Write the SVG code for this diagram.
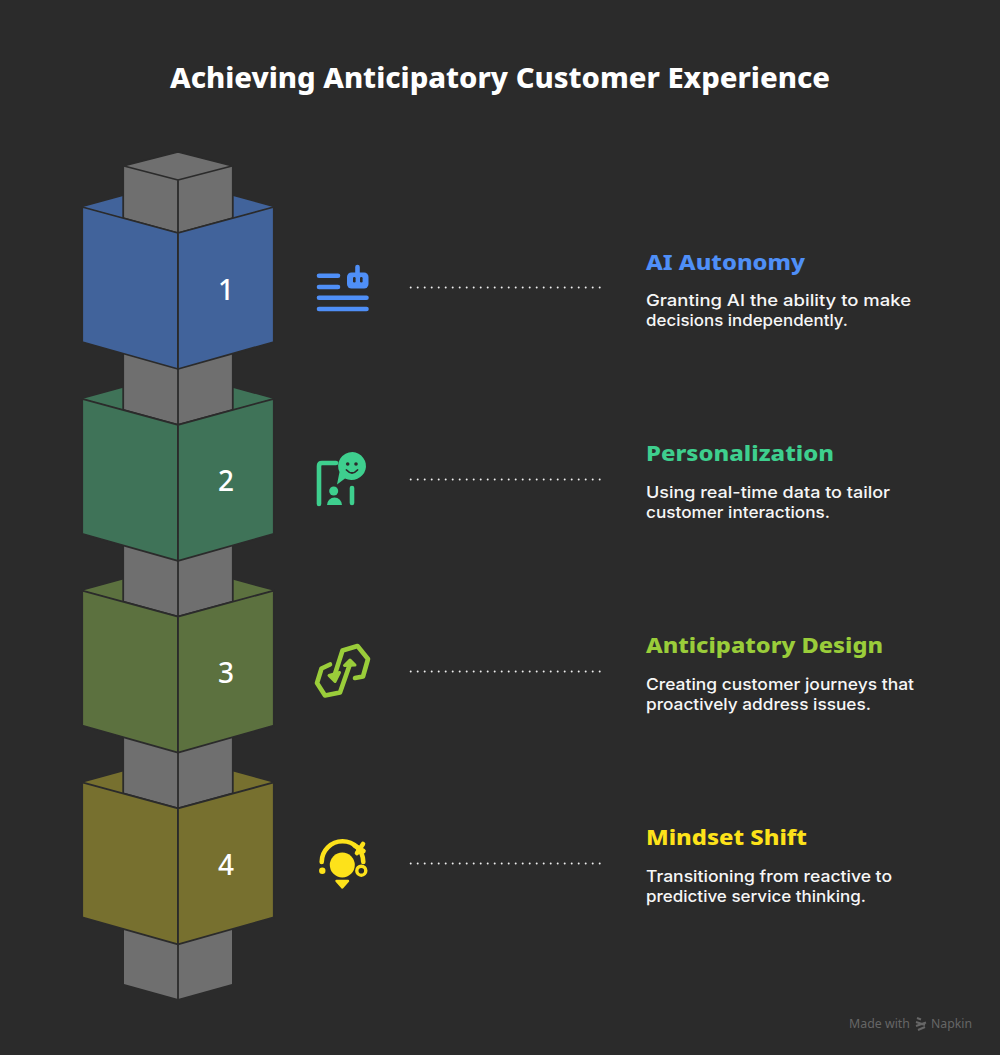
<svg xmlns="http://www.w3.org/2000/svg" xmlns:xlink="http://www.w3.org/1999/xlink" width="1000" height="1055" viewBox="0 0 1000 1055">
<style>
text{font-family:"Noto Sans","Open Sans",sans-serif}
.title{font-size:28px;font-weight:800;fill:#fff}
.h{font-size:22px;font-weight:800}
.d{font-family:Inter,"Noto Sans",sans-serif;font-size:16.4px;font-weight:500;fill:#f6f6f6}
.n{font-size:28px;font-weight:500;fill:#fff;text-anchor:middle}
.gray{fill:#6f6f6f;stroke:#2b2b2b;stroke-width:1.8;stroke-linejoin:round}
.edge{fill:none;stroke:#2b2b2b;stroke-width:1.8;stroke-linejoin:round}
.face{stroke:#2b2b2b;stroke-width:1.8;stroke-linejoin:round}
.dots{fill:none;stroke:#f0f0f0;stroke-width:2;stroke-linecap:round;stroke-dasharray:0 7}
.ln{fill:none;stroke-width:4.6;stroke-linecap:round;stroke-linejoin:round}
</style>
<defs>
<g id="cube-front">
<polygon class="face" points="82.200,207 178,233 178,369 82.200,342"/>
<polygon class="face" points="273.800,207 178,233 178,369 273.800,342"/>
</g>
<polygon id="cube-back" points="83,207 178,181 273,207 178,233"/>
<g id="shaft">
<polygon class="gray" points="123.200,150 232.800,150 232.800,218 178,233 123.200,218"/>
<line class="edge" x1="178" y1="150" x2="178" y2="233"/>
</g>
</defs>
<rect width="1000" height="1055" fill="#2b2b2b"/>
<text class="title" x="170" y="88" textLength="660" lengthAdjust="spacingAndGlyphs">Achieving Anticipatory Customer Experience</text>

<g id="column-base">
<polygon points="124,925 232,925 232,984 178,999 124,984" fill="#6f6f6f"/>
<line class="edge" x1="178" y1="925" x2="178" y2="999"/>
</g>

<g id="node-4">
<g transform="translate(0,575.4)"><use href="#cube-back" fill="#77702f"/><use href="#shaft"/><use href="#cube-front" fill="#77702f"/></g>
<text class="n" x="226" y="875">4</text>
<g id="icon-4" fill="#fde21a" stroke="#fde21a">
<circle cx="342.300" cy="865" r="12.500" stroke="none"/>
<polygon points="336.500,881 348,881 342.300,887.500" stroke-width="2.400" stroke-linejoin="round"/>
<path class="ln" d="M321.700,862A20.800,20.800 0 0 1 363.300,862" fill="none" stroke-width="4"/>
<path class="ln" d="M354.500,845.500L363.500,851M363,844L357,853" fill="none" stroke-width="3.600"/>
<circle cx="322.300" cy="870.700" r="3.200" stroke="none"/>
<circle cx="361.300" cy="870.700" r="4.500" fill="none" stroke-width="3.400"/>
</g>
<text class="h" x="646" y="845" fill="#fde21a" textLength="161" lengthAdjust="spacingAndGlyphs">Mindset Shift</text>
<text class="d" x="646" y="882" textLength="246" lengthAdjust="spacingAndGlyphs">Transitioning from reactive to</text>
<text class="d" x="646" y="902" textLength="220" lengthAdjust="spacingAndGlyphs">predictive service thinking.</text>
</g>

<g id="node-3">
<g transform="translate(0,383.600)"><use href="#cube-back" fill="#5c713f"/><use href="#shaft"/><use href="#cube-front" fill="#5c713f"/></g>
<text class="n" x="226" y="683">3</text>
<g id="icon-3" stroke="#9acd3a" fill="none">
<path class="ln" d="M334,677L342.500,650.500L357.500,646L368,659L363,676.500L355,678"/>
<path class="ln" d="M330,664.500L321.500,668.500L317,683L325,695.500L340,692.500L350,664"/>
<polygon points="329,675.500 339.500,672.500 335,681.500" fill="#9acd3a" stroke-width="3" stroke-linejoin="round"/>
<polygon points="344.500,665.500 355,665 350,660" fill="#9acd3a" stroke-width="3" stroke-linejoin="round"/>
</g>
<text class="h" x="646" y="653" fill="#9acd3a" textLength="237" lengthAdjust="spacingAndGlyphs">Anticipatory Design</text>
<text class="d" x="646" y="690" textLength="268" lengthAdjust="spacingAndGlyphs">Creating customer journeys that</text>
<text class="d" x="646" y="710" textLength="225" lengthAdjust="spacingAndGlyphs">proactively address issues.</text>
</g>

<g id="node-2">
<g transform="translate(0,191.800)"><use href="#cube-back" fill="#3f7358"/><use href="#shaft"/><use href="#cube-front" fill="#3f7358"/></g>
<text class="n" x="226" y="491">2</text>
<g id="icon-2" fill="#3ecf8e" stroke="#3ecf8e">
<path class="ln" d="M319,504V466Q319,463 322,463H336" fill="none"/>
<path class="ln" d="M352,488V503" fill="none"/>
<path d="M352.500,452A14.500,14 0 1 1 345,478.500L337,484.500L339.500,472A14.500,14 0 0 1 352.500,452Z" stroke="none"/>
<circle cx="347.700" cy="464" r="1.800" fill="#2b2b2b" stroke="none"/>
<circle cx="356" cy="464" r="1.800" fill="#2b2b2b" stroke="none"/>
<path d="M346.500,470Q352,476 357.500,470" fill="none" stroke="#2b2b2b" stroke-width="1.800" stroke-linecap="round"/>
<circle cx="333.700" cy="491" r="4.500" stroke="none"/>
<path d="M327,505A7.500,7.500 0 0 1 342,505Z" stroke="none"/>
</g>
<text class="h" x="646" y="461" fill="#3ecf8e" textLength="188" lengthAdjust="spacingAndGlyphs">Personalization</text>
<text class="d" x="646" y="498" textLength="244" lengthAdjust="spacingAndGlyphs">Using real-time data to tailor</text>
<text class="d" x="646" y="518" textLength="184" lengthAdjust="spacingAndGlyphs">customer interactions.</text>
</g>

<g id="node-1">
<use href="#cube-back" fill="#41639b"/>
<polygon class="gray" points="123.200,166 178,152 232.800,166 232.800,218 178,233 123.200,218"/>
<path class="edge" d="M124,166L178,180L232,166M178,180V233"/>
<use href="#cube-front" fill="#41639b"/>
<text class="n" x="226" y="300">1</text>
<g id="icon-1" fill="#4f8ff7" stroke="#4f8ff7">
<path class="ln" d="M319,275.700H338M319,287H338M319,297.700H366.500M319,309H366.500" fill="none"/>
<rect x="347" y="272.500" width="21.500" height="16" rx="4.500" stroke="none"/>
<path class="ln" d="M357.500,267V273" fill="none" stroke-width="3.600"/>
<rect x="353" y="277" width="2.600" height="5.500" rx="1.200" fill="#2b2b2b" stroke="none"/>
<rect x="360" y="277" width="2.600" height="5.500" rx="1.200" fill="#2b2b2b" stroke="none"/>
</g>
<text class="h" x="646" y="270" fill="#4f8ff7" textLength="159" lengthAdjust="spacingAndGlyphs">AI Autonomy</text>
<text class="d" x="646" y="306" textLength="265" lengthAdjust="spacingAndGlyphs">Granting AI the ability to make</text>
<text class="d" x="646" y="326" textLength="202" lengthAdjust="spacingAndGlyphs">decisions independently.</text>
</g>

<g id="connectors">
<line class="dots" x1="410.700" y1="287.500" x2="600" y2="287.500"/>
<line class="dots" x1="410.700" y1="479.500" x2="600" y2="479.500"/>
<line class="dots" x1="410.700" y1="671.500" x2="600" y2="671.500"/>
<line class="dots" x1="410.700" y1="863.500" x2="600" y2="863.500"/>
</g>

<g id="watermark" fill="#666">
<text x="849" y="1028" font-size="12.500" textLength="61" lengthAdjust="spacingAndGlyphs">Made with</text>
<path d="M917,1018L921,1019.500M916,1022L925,1025M916,1026L926,1022.500M918,1030L925,1027" stroke="#666" stroke-width="2" fill="none"/>
<text x="931" y="1028" font-size="12.500" textLength="41" lengthAdjust="spacingAndGlyphs">Napkin</text>
</g>
</svg>
